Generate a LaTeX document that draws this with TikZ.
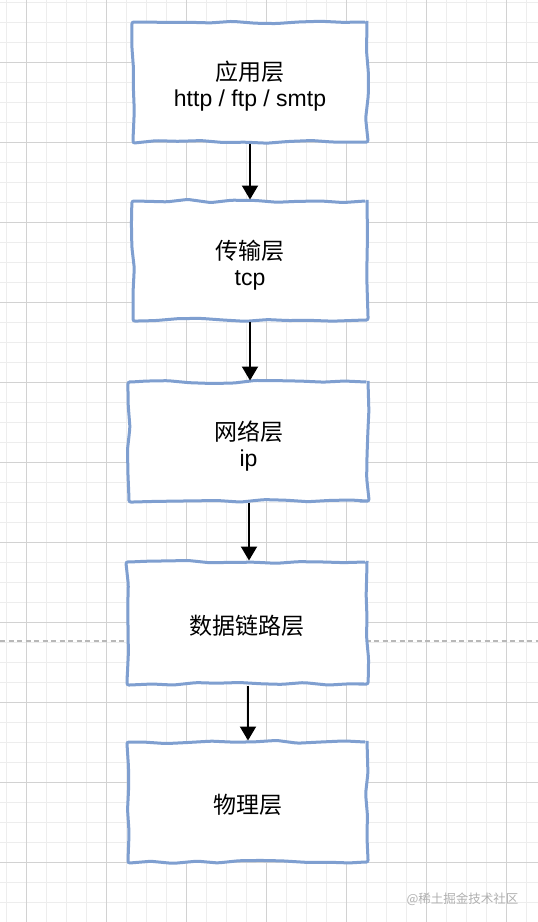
\documentclass[tikz,border=0pt]{standalone}
\usepackage{fontspec}
\setmainfont{Liberation Sans}
\newfontfamily\cjk{Noto Sans CJK SC}
\usetikzlibrary{arrows.meta,decorations.pathmorphing}
\definecolor{boxblue}{HTML}{7F9FD0}
\definecolor{gridminor}{HTML}{EDEDED}
\definecolor{gridmajor}{HTML}{D2D2D2}
\definecolor{dashgray}{HTML}{B8B8B8}
\definecolor{wmgray}{HTML}{B0B0B0}
\tikzset{
  layer/.style={rectangle, draw=boxblue, line width=3pt, fill=white,
    decorate, decoration={random steps, segment length=22pt, amplitude=1.6pt},
    rounded corners=2pt, inner sep=0pt},
  layertext/.style={align=center, inner sep=0pt, font=\fontsize{23}{26}\selectfont},
  flow/.style={draw=black, line width=2pt, -{Triangle[width=16pt,length=14pt]}},
  minorline/.style={draw=gridminor, line width=1pt},
  majorline/.style={draw=gridmajor, line width=1pt},
}
\begin{document}
\begin{tikzpicture}[x=1pt,y=-1pt]
\pgfmathsetseed{7}
\useasboundingbox (0,0) rectangle (538,922);
\fill[white] (0,0) rectangle (538,922);
% grid
\foreach \x in {6,26,...,526} \draw[minorline] (\x,0) -- (\x,922);
\foreach \y in {2,22,...,922} \draw[minorline] (0,\y) -- (538,\y);
\foreach \x in {26,106,...,506} \draw[majorline] (\x,0) -- (\x,922);
\foreach \y in {62,142,...,862} \draw[majorline] (0,\y) -- (538,\y);
\draw[dashgray, line width=1.2pt, dash pattern=on 5pt off 3.5pt] (0,641) -- (538,641);
% boxes
\node[layer, minimum width=234pt, minimum height=120pt] (b1) at (250,82) {};
\node[layer, minimum width=234pt, minimum height=119pt] (b2) at (250,260.5) {};
\node[layer, minimum width=239pt, minimum height=119pt] (b3) at (248.5,441.5) {};
\node[layer, minimum width=240pt, minimum height=122pt] (b4) at (247,623) {};
\node[layer, minimum width=239pt, minimum height=120pt] (b5) at (247.5,802) {};
% texts
\node[layertext] (t1) at ([yshift=-4.5pt]b1.center) {{\cjk 应用层}\\http / ftp / smtp};
\node[layertext] (t2) at ([yshift=-4.5pt]b2.center) {{\cjk 传输层}\\tcp};
\node[layertext] (t3) at ([yshift=-4.5pt]b3.center) {{\cjk 网络层}\\ip};
\node[layertext] (t4) at ([yshift=-3pt]b4.center) {{\cjk 数据链路层}};
\node[layertext] (t5) at ([yshift=-2.5pt]b5.center) {{\cjk 物理层}};
% arrows
\draw[flow] (b1.south) -- (b1.south |- b2.north);
\draw[flow] (b2.south) -- (b2.south |- b3.north);
\draw[flow] ([xshift=0.5pt]b3.south) -- ([xshift=0.5pt]b3.south |- b4.north);
\draw[flow] ([xshift=1pt]b4.south) -- ([xshift=1pt]b4.south |- b5.north);
% watermark
\node[text=wmgray, font=\cjk\fontsize{12.5}{14}\selectfont, anchor=east] (wm) at (522,899) {@稀土掘金技术社区};
\end{tikzpicture}
\end{document}
